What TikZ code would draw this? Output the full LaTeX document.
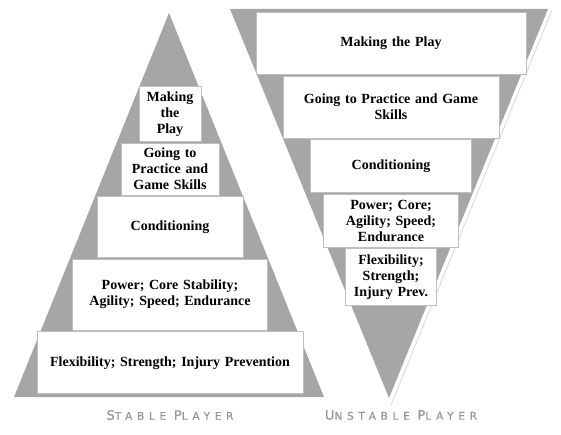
\documentclass[tikz,border=0pt]{standalone}
\usepackage{fontspec}
\setmainfont{Liberation Serif}
\newfontfamily\capfont[LetterSpace=45, FakeBold=0.6]{DejaVu Sans}
\usepackage{tikz}
\usetikzlibrary{positioning}
\definecolor{mygray}{RGB}{166,166,166}
\definecolor{myedge}{RGB}{190,190,190}
\definecolor{mylight}{RGB}{215,215,215}
\definecolor{mycap}{RGB}{150,150,150}
\newcommand{\fakesc}[2]{{\fontsize{13}{13}\selectfont #1}{\fontsize{10.5}{13}\selectfont #2}}
\tikzset{
  tier/.style args={#1/#2/#3}{rectangle, draw=myedge, fill=white, line width=0.6pt,
    minimum width=#1, text width=#2, minimum height=#3, inner xsep=0pt,
    align=center, font=\fontsize{14}{16}\selectfont\bfseries},
  caption/.style={text=mycap, font=\capfont}
}
\begin{document}
\begin{tikzpicture}[x=1pt, y=-1pt, node distance=1pt]
  \useasboundingbox (0,0) rectangle (561,435);
  % Gray triangles behind the tiers
  \fill[mygray] (169,13) -- (324,397) -- (14,397) -- cycle;
  \fill[mygray] (230,9) -- (548,9) -- (389,398) -- cycle;
  \draw[mylight, line width=0.8pt] (552,10) -- (391,405);

  % Stable player: wide base
  \node[tier=266pt/250pt/62pt, anchor=south] (sflex) at (170,394) {Flexibility; Strength; Injury Prevention};
  \node[tier=195pt/175pt/71pt, above=of sflex] (spower) {Power; Core Stability;\\Agility; Speed; Endurance};
  \node[tier=146pt/130pt/61pt, above=of spower] (scond) {Conditioning};
  \node[tier=98pt/86pt/52pt, above=of scond] (sgame) {Going to\\Practice and\\Game Skills};
  \node[tier=62pt/52pt/55pt, above=of sgame] (splay) {Making\\the\\Play};

  % Unstable player: narrow base
  \node[tier=270pt/250pt/62pt, anchor=north] (uplay) at (391,12) {Making the Play};
  \node[tier=216pt/196pt/62pt, below=of uplay] (ugame) {Going to Practice and Game\\Skills};
  \node[tier=161pt/145pt/53pt, below=of ugame] (ucond) {Conditioning};
  \node[tier=135pt/115pt/53pt, below=of ucond] (upower) {Power; Core;\\Agility; Speed;\\Endurance};
  \node[tier=91pt/80pt/57pt, below=of upower] (uflex) {Flexibility;\\Strength;\\Injury Prev.};

  % Captions
  \node[caption] (stable) at (170,415) {\fakesc{S}{TABLE} \fakesc{P}{LAYER}};
  \node[caption] (unstable) at (401,415) {\fakesc{U}{NSTABLE} \fakesc{P}{LAYER}};
\end{tikzpicture}
\end{document}
